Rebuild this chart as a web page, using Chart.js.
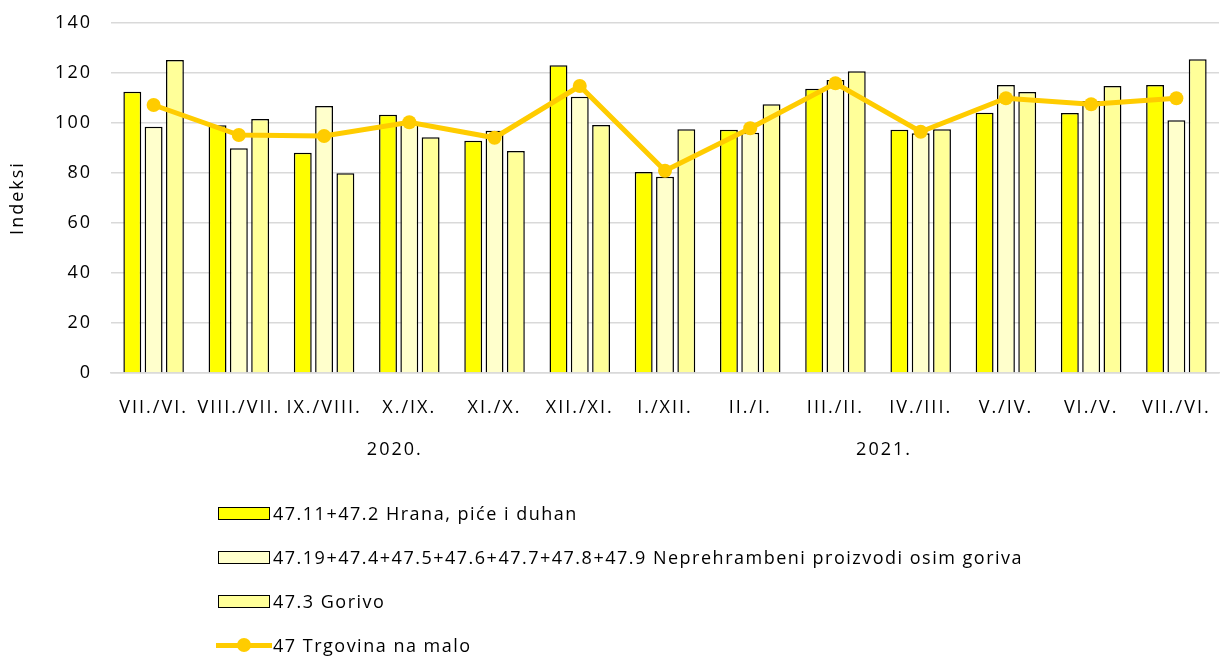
<!DOCTYPE html>
<html>
<head>
<meta charset="utf-8">
<script src="https://cdn.jsdelivr.net/npm/chart.js@4.4.1/dist/chart.umd.min.js"></script>
<style>
  body { margin: 0; background: #fff; }
  #wrap { position: relative; width: 1226px; height: 658px; }
  #legend { position: absolute; left: 216px; top: 500px; font-family: "Open Sans", sans-serif; font-size: 18px; letter-spacing: 1.5px; color: #000; }
  .item { height: 44px; display: flex; align-items: flex-start; line-height: 26px; }
  .box { width: 50px; height: 11px; border: 1.5px solid #000; margin: 7px 3px 0 2px; }
  .lineMark { position: relative; width: 56px; height: 26px; margin-right: 1px; }
  .lineMark .l { position: absolute; left: 0; right: 0; top: 11px; height: 5px; background: #FFCC00; }
  .lineMark .d { position: absolute; left: 21px; top: 6px; width: 14px; height: 14px; border-radius: 50%; background: #FFCC00; }
</style>
</head>
<body>
<div id="wrap">
  <canvas id="myChart" width="1226" height="658"></canvas>
  <div id="legend"></div>
</div>
<script>
const labels = ["VII./VI.", "VIII./VII.", "IX./VIII.", "X./IX.", "XI./X.", "XII./XI.", "I./XII.", "II./I.", "III./II.", "IV./III.", "V./IV.", "VI./V.", "VII./VI."];
const hrana = [112.5, 99.1, 88.1, 103.3, 92.9, 123.1, 80.4, 97.3, 113.7, 97.3, 104.1, 104.0, 115.2];
const neprehrambeni = [98.5, 89.9, 106.8, 100.2, 96.9, 110.5, 78.5, 96.1, 117.2, 95.9, 115.2, 108.8, 101.1];
const gorivo = [125.2, 101.6, 79.9, 94.3, 88.8, 99.2, 97.5, 107.5, 120.7, 97.5, 112.4, 114.8, 125.5];
const trgovina = [107.2, 95.2, 94.8, 100.3, 94.1, 114.8, 80.9, 97.9, 115.9, 96.5, 109.9, 107.5, 109.9];
const yearLabels = ["2020.", "2021."];

const fontFamily = "'Open Sans', sans-serif";
const fontSize = 18;

// wider text, like the stretched original
const spacingPlugin = {
  id: "spacing",
  beforeDraw(chart) {
    chart.ctx.letterSpacing = "2px";
  },
};

// year labels under the month ticks
const yearPlugin = {
  id: "years",
  afterDraw(chart) {
    const ctx = chart.ctx;
    const x = chart.scales.x;
    const pos = [2.83, 8.57];
    ctx.save();
    ctx.font = fontSize + "px " + fontFamily;
    ctx.fillStyle = "#000";
    ctx.textAlign = "center";
    ctx.textBaseline = "middle";
    yearLabels.forEach((t, i) => {
      ctx.fillText(t, x.getPixelForValue(pos[i]), 450);
    });
    ctx.restore();
  },
};

function createChart() {
  const data = {
    labels: labels,
    datasets: [
      {
        type: "line",
        label: "47 Trgovina na malo",
        data: trgovina,
        borderColor: "#FFCC00",
        backgroundColor: "#FFCC00",
        borderWidth: 5,
        pointRadius: 7,
        pointHoverRadius: 7,
        pointBorderWidth: 0,
        order: 0,
      },
      {
        label: "47.11+47.2 Hrana, piće i duhan",
        data: hrana,
        backgroundColor: "#FFFF00",
        borderColor: "#000",
        borderWidth: 1.5,
        order: 1,
      },
      {
        label: "47.19+47.4+47.5+47.6+47.7+47.8+47.9 Neprehrambeni proizvodi osim goriva",
        data: neprehrambeni,
        backgroundColor: "#FFFFCC",
        borderColor: "#000",
        borderWidth: 1.5,
        order: 1,
      },
      {
        label: "47.3 Gorivo",
        data: gorivo,
        backgroundColor: "#FFFF99",
        borderColor: "#000",
        borderWidth: 1.5,
        order: 1,
      },
    ],
  };

  const config = {
    type: "bar",
    data,
    options: {
      responsive: false,
      animation: false,
      categoryPercentage: 0.75,
      barPercentage: 0.84,
      layout: { padding: { top: 23, right: 0, bottom: 0, left: 0 } },
      plugins: { legend: { display: false }, tooltip: { enabled: false } },
      scales: {
        x: {
          grid: { display: false, drawTicks: false },
          border: { color: "#d9d9d9", width: 1.5 },
          ticks: { font: { family: fontFamily, size: fontSize }, color: "#000", padding: 24, maxRotation: 0, autoSkip: false },
          afterFit(scale) {
            scale.height = 285;
            scale.paddingLeft = 0;
            scale.paddingRight = 0;
          },
        },
        y: {
          min: 0,
          max: 140,
          ticks: { stepSize: 20, font: { family: fontFamily, size: fontSize }, color: "#000", padding: 19 },
          grid: { color: "#d9d9d9", lineWidth: 1.5, drawTicks: false },
          border: { display: false },
          title: { display: true, text: "Indeksi", font: { family: fontFamily, size: fontSize }, color: "#000", padding: { top: 7, bottom: 0 } },
          afterFit(scale) {
            scale.width = 111;
            scale.paddingTop = 0;
            scale.paddingBottom = 0;
          },
        },
      },
    },
    plugins: [spacingPlugin, yearPlugin],
  };
  const chart = new Chart(document.getElementById("myChart"), config);

  // legend: bars first, then the line, one per row
  const legend = document.getElementById("legend");
  const order = [1, 2, 3, 0];
  order.forEach((i) => {
    const ds = chart.data.datasets[i];
    const row = document.createElement("div");
    row.className = "item";
    if (ds.type === "line") {
      row.innerHTML = '<div class="lineMark"><div class="l"></div><div class="d"></div></div>';
    } else {
      row.innerHTML = '<div class="box" style="background:' + ds.backgroundColor + '"></div>';
    }
    const span = document.createElement("span");
    span.textContent = ds.label;
    row.appendChild(span);
    legend.appendChild(row);
  });
}

document.addEventListener("DOMContentLoaded", () => {
  createChart();
});
</script>
</body>
</html>
